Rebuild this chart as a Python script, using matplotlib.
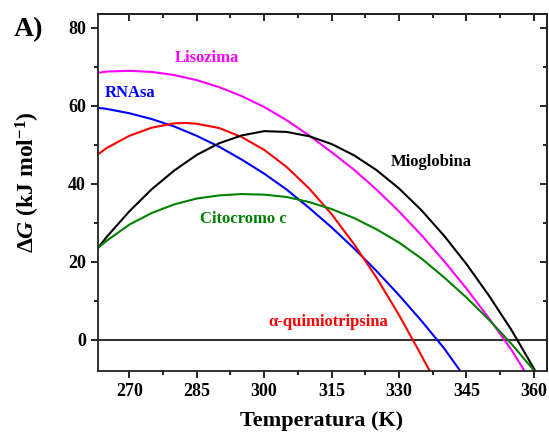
import matplotlib
matplotlib.use("Agg")
import matplotlib.pyplot as plt
from matplotlib.ticker import MultipleLocator

plt.rcParams['font.family'] = ['Liberation Serif', 'DejaVu Serif']
plt.rcParams['font.weight'] = 'bold'
plt.rcParams['mathtext.fontset'] = 'custom'
plt.rcParams['mathtext.rm'] = 'Liberation Serif:bold'
plt.rcParams['mathtext.bf'] = 'Liberation Serif:bold'
plt.rcParams['mathtext.it'] = 'Liberation Serif:italic:bold'

# ---- data ----
T_lis = [263.1, 265, 270, 275, 280, 285, 290, 295, 300, 305, 310, 315, 320, 325, 330, 335, 340, 345, 350, 355, 357.9]
G_lis = [68.5, 68.8, 69.0, 68.7, 67.9, 66.6, 64.8, 62.5, 59.7, 56.3, 52.4, 48.1, 43.6, 38.5, 32.9, 26.8, 20.2, 13.1, 5.5, -2.6, -8.0]

T_rna = [263.1, 265, 270, 275, 280, 285, 290, 295, 300, 305, 310, 315, 320, 325, 330, 335, 340, 343.6]
G_rna = [59.5, 59.2, 58.1, 56.6, 54.7, 52.3, 49.5, 46.2, 42.6, 38.5, 33.8, 28.8, 23.4, 17.6, 11.4, 4.8, -2.2, -8.0]

T_qui = [263.1, 265, 270, 275, 280, 282.5, 285, 290, 295, 300, 305, 310, 315, 320, 325, 330, 335, 336.8]
G_qui = [47.6, 49.2, 52.3, 54.4, 55.5, 55.6, 55.4, 54.3, 52.0, 48.7, 44.3, 38.8, 32.2, 24.5, 15.9, 6.3, -4.1, -8.0]

T_mio = [263.1, 265, 270, 275, 280, 285, 290, 295, 300, 305, 310, 315, 320, 325, 330, 335, 340, 345, 350, 355, 360.3]
G_mio = [23.6, 26.4, 32.9, 38.6, 43.4, 47.4, 50.4, 52.4, 53.5, 53.3, 52.2, 50.2, 47.3, 43.5, 38.8, 33.2, 26.7, 19.4, 11.3, 2.5, -8.0]

T_cit = [263.1, 265, 270, 275, 280, 285, 290, 295, 300, 305, 310, 315, 320, 325, 330, 335, 340, 345, 350, 355, 360.1]
G_cit = [23.6, 25.4, 29.5, 32.5, 34.7, 36.2, 37.0, 37.35, 37.2, 36.6, 35.3, 33.5, 31.2, 28.3, 24.9, 20.8, 16.0, 10.8, 5.1, -1.1, -8.0]

x_ticks = [270, 285, 300, 315, 330, 345, 360]
y_ticks = [0, 20, 40, 60, 80]

W, H = 549, 437
fig = plt.figure(figsize=(W / 100, H / 100), dpi=100)
ax = fig.add_axes([98.3 / W, 1 - 370.7 / H, (547.3 - 98.3) / W, (370.7 - 14.3) / H])

lw = 1.5
ax.axhline(0, color='#333333', lw=1.5, zorder=1)
ax.plot(T_lis, G_lis, color='#FF00FF', lw=lw)
ax.plot(T_rna, G_rna, color='#0000FF', lw=lw)
ax.plot(T_qui, G_qui, color='#FF0000', lw=lw)
ax.plot(T_mio, G_mio, color='black', lw=lw)
ax.plot(T_cit, G_cit, color='#008000', lw=lw)

ax.set_xlim(263.1, 363.0)
ax.set_ylim(-8, 83.5)
ax.set_xticks(x_ticks)
ax.set_yticks(y_ticks)
ax.xaxis.set_minor_locator(MultipleLocator(7.5))
ax.yaxis.set_minor_locator(MultipleLocator(10))

# bottom/left ticks outward, mirrored top/right ticks inward
ax.tick_params(which='both', direction='out', width=1.2, labelsize=13)
ax.tick_params(axis='x', which='major', length=5, pad=4)
ax.tick_params(axis='y', which='major', length=5, pad=4)
ax.tick_params(which='minor', length=3)
secx = ax.secondary_xaxis('top')
secx.set_xticks(x_ticks)
secx.xaxis.set_minor_locator(MultipleLocator(7.5))
secx.tick_params(which='both', direction='in', width=1.2, labeltop=False)
secx.tick_params(which='major', length=5)
secx.tick_params(which='minor', length=3)
secy = ax.secondary_yaxis('right')
secy.set_yticks(y_ticks)
secy.yaxis.set_minor_locator(MultipleLocator(10))
secy.tick_params(which='both', direction='in', width=1.2, labelright=False)
secy.tick_params(which='major', length=5)
secy.tick_params(which='minor', length=3)

for lab in ax.get_xticklabels() + ax.get_yticklabels():
    lab.set_fontweight('bold')
for s in list(ax.spines.values()):
    s.set_linewidth(1.3)
    s.set_color('#222222')
for sec in (secx, secy):
    for s in sec.spines.values():
        s.set_linewidth(1.3)
        s.set_color('#222222')

fs = 12
ax.text(287.3, 72.4, 'Lisozima', color='#FF00FF', fontsize=fs, fontweight='bold', ha='center', va='center')
ax.text(270.2, 63.2, 'RNAsa', color='#0000FF', fontsize=fs, fontweight='bold', ha='center', va='center')
ax.text(337.1, 45.6, 'Mioglobina', color='black', fontsize=fs, fontweight='bold', ha='center', va='center')
ax.text(295.3, 30.9, 'Citocromo c', color='#008000', fontsize=fs, fontweight='bold', ha='center', va='center')
ax.text(314.2, 4.5, 'α-quimiotripsina', color='#FF0000', fontsize=fs, fontweight='bold', ha='center', va='center')

fig.text(322 / W, 1 - 421 / H, 'Temperatura (K)', fontsize=16, fontweight='bold', ha='center', va='center')
fig.text(28 / W, 1 - 182 / H, r'$\Delta G$ (kJ mol$^{-1}$)', fontsize=17, fontweight='bold',
         ha='center', va='center', rotation=90)
fig.text(28 / W, 1 - 30 / H, 'A)', fontsize=20, fontweight='bold', ha='center', va='center')

fig.savefig('out.png', dpi=100)
